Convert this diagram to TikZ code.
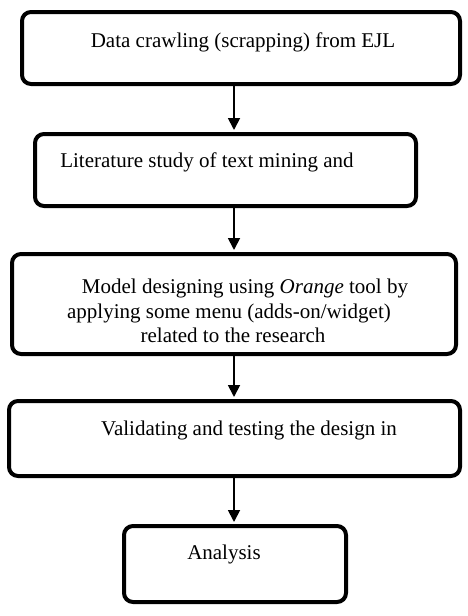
\documentclass[tikz,border=0pt]{standalone}
\usepackage{fontspec}
\setmainfont{Liberation Serif}
\usetikzlibrary{arrows.meta}
\tikzset{
  box/.style={draw=black, line width=4pt, rounded corners=9pt, inner sep=0pt, fill=white},
  lbl/.style={anchor=base, inner sep=0pt, font=\fontsize{21}{25}\selectfont},
  arr/.style={line width=1.8pt, -{Triangle[width=12pt,length=12pt]}, shorten >=2pt}
}
\begin{document}
\begin{tikzpicture}[x=1pt,y=-1pt]
\useasboundingbox[fill=white] (0,0) rectangle (468,616);
\coordinate (ax) at (234,0);
\node[box, minimum width=438pt, minimum height=72pt] (b1) at (241,48) {};
\node[box, minimum width=381pt, minimum height=72pt] (b2) at (225.5,170) {};
\node[box, minimum width=444pt, minimum height=100pt] (b3) at (234,304) {};
\node[box, minimum width=451pt, minimum height=75pt] (b4) at (234.5,438.5) {};
\node[box, minimum width=222pt, minimum height=76pt] (b5) at (235,564) {};
\node[lbl] (t1) at (243,47) {Data crawling (scrapping) from EJL};
\node[lbl] (t2) at (207,167) {Literature study of text mining and};
\node[lbl] (t3a) at (245,293) {Model designing using \textit{Orange} tool by};
\node[lbl] (t3b) at (229,318) {applying some menu (adds-on/widget)};
\node[lbl] (t3c) at (233,342.5) {related to the research};
\node[lbl] (t4) at (249,435) {Validating and testing the design in};
\node[lbl] (t5) at (224,559) {Analysis};
\draw[arr] (b1.south -| ax) -- (b2.north -| ax);
\draw[arr] (b2.south -| ax) -- (b3.north -| ax);
\draw[arr] (b3.south -| ax) -- (b4.north -| ax);
\draw[arr] (b4.south -| ax) -- (b5.north -| ax);
\end{tikzpicture}
\end{document}
